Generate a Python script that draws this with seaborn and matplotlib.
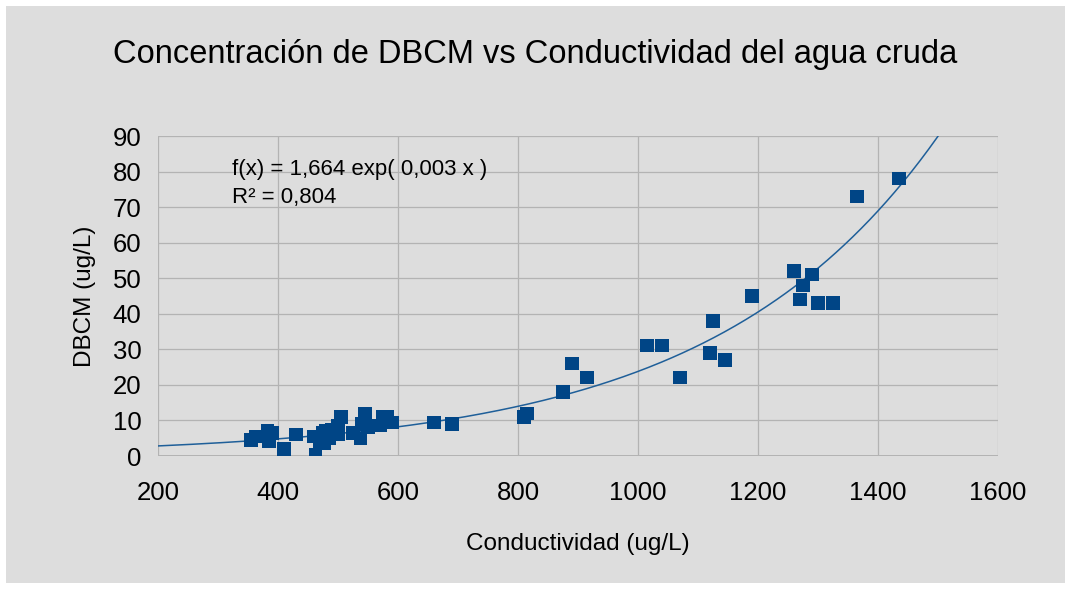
import numpy as np
import pandas as pd
import matplotlib
matplotlib.use('Agg')
import matplotlib.pyplot as plt
import seaborn as sns
from matplotlib.patches import Rectangle

# Conductividad del agua cruda vs DBCM
conductividad = [355, 362, 383, 385, 390, 410, 430, 460, 462, 470,
                 475, 478, 480, 485, 490, 500, 505, 500, 525, 538,
                 540, 545, 550, 560, 570, 575, 582, 590, 660, 690,
                 810, 815, 875, 890, 915, 1015, 1040, 1070, 1120, 1125,
                 1145, 1190, 1260, 1270, 1275, 1290, 1300, 1325, 1365, 1435]
dbcm = [4.5, 5.5, 7, 4, 6.5, 2, 6, 5.5, 0.5, 4,
        6.5, 3.5, 7, 5, 7.5, 6, 11, 8.5, 6.5, 5,
        9, 12, 8, 8.5, 8.5, 11, 11, 9.5, 9.5, 9,
        11, 12, 18, 26, 22, 31, 31, 22, 29, 38,
        27, 45, 52, 44, 48, 51, 43, 43, 73, 78]

# exponential trend line f(x) = a * exp(b x)
trend_a = 1.664
trend_b = 0.00266
trend_eq = 'f(x) = 1,664 exp( 0,003 x )'
trend_r2 = 'R² = 0,804'

df = pd.DataFrame({'conductividad': conductividad, 'dbcm': dbcm})

bg = '#dddddd'
grid = '#b3b3b3'
blue = '#004586'
W, H = 1071, 589

sns.set_theme(style='whitegrid')
plt.rcParams['font.family'] = ['Liberation Sans', 'DejaVu Sans']
plt.rcParams['text.color'] = 'black'
plt.rcParams['axes.labelcolor'] = 'black'

fig = plt.figure(figsize=(W / 100, H / 100), dpi=100)
fig.patch.set_facecolor('white')
fig.patches.append(Rectangle((6 / W, 6 / H), 1059 / W, 577 / H,
                             transform=fig.transFigure, facecolor=bg,
                             edgecolor='none', zorder=-5))
ax = fig.add_axes([158 / W, (H - 456) / H, 840 / W, 320 / H])
ax.set_zorder(2)
ax.set_facecolor(bg)

# trend curve, clipped at top of axes
xs = np.linspace(200, 1600, 400)
ys = trend_a * np.exp(trend_b * xs)
ax.plot(xs, ys, color='#1f5f99', lw=1.1, zorder=2)

sns.scatterplot(data=df, x='conductividad', y='dbcm', ax=ax, marker='s',
                s=92, color=blue, edgecolor='none', zorder=3)

ax.set_xlim(200, 1600)
ax.set_ylim(0, 90)
ax.set_xticks(range(200, 1601, 200))
ax.set_yticks(range(0, 91, 10))
ax.grid(True, color=grid, lw=0.9)
for s in ax.spines.values():
    s.set_visible(False)
ax.axhline(0, color=grid, lw=1.4, zorder=1)
ax.tick_params(axis='both', length=9, color=grid, width=1.0, labelsize=18.5,
               labelcolor='black', pad=3)
ax.tick_params(axis='x', pad=9)

ax.set_xlabel('Conductividad (ug/L)', fontsize=17.5, labelpad=20)
ax.set_ylabel('DBCM (ug/L)', fontsize=17.5, labelpad=12)
fig.text(0.5, (H - 55) / H, 'Concentración de DBCM vs Conductividad del agua cruda',
         ha='center', va='center', fontsize=23.5, color='black', zorder=3)
fig.text(232 / W, (H - 170) / H, trend_eq, fontsize=16, va='center', ha='left', zorder=3)
fig.text(232 / W, (H - 198) / H, trend_r2, fontsize=16, va='center', ha='left', zorder=3)

fig.savefig('out.png', dpi=100, facecolor='white')
